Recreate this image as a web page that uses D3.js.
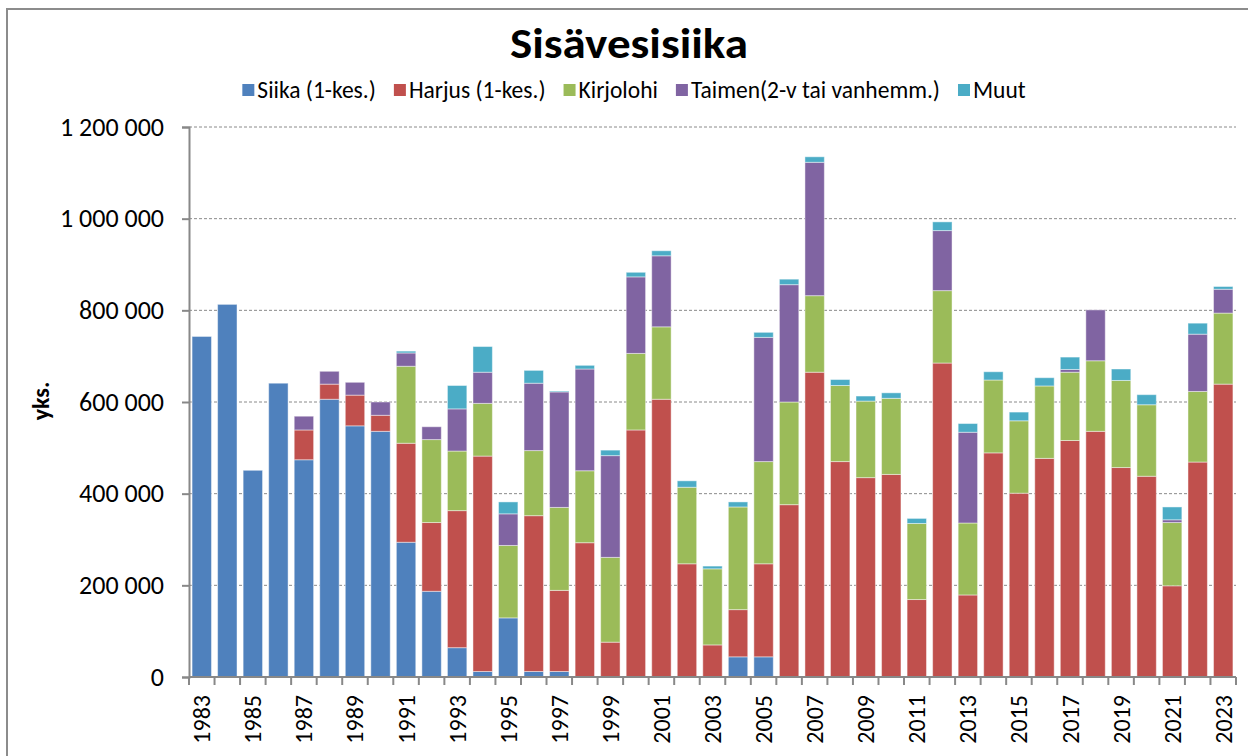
<!DOCTYPE html>
<html><head><meta charset="utf-8">
<script src="https://cdn.jsdelivr.net/npm/d3@7"></script>
<style>body{margin:0;background:#fff}svg{display:block}</style>
</head><body><svg id="c" width="1248" height="756"></svg>
<script>
const years = d3.range(1983, 2024).map(String);
const seriesNames = ["Siika (1-kes.)", "Harjus (1-kes.)", "Kirjolohi", "Taimen(2-v tai vanhemm.)", "Muut"];
const siika = [743000,813000,451000,641000,474000,606000,548000,536000,294000,187000,64000,12000,129000,12000,12000,0,0,0,0,0,0,44000,44000,0,0,0,0,0,0,0,0,0,0,0,0,0,0,0,0,0,0];
const harjus = [0,0,0,0,65000,33000,67000,35000,216000,150000,299000,470000,0,340000,177000,293000,76000,539000,606000,247000,70000,103000,203000,376000,665000,470000,435000,442000,169000,685000,179000,489000,401000,477000,516000,536000,457000,438000,199000,469000,639000];
const kirjolohi = [0,0,0,0,0,0,0,0,168000,181000,130000,115000,158000,142000,181000,157000,185000,167000,158000,167000,166000,224000,223000,224000,167000,166000,167000,166000,166000,158000,157000,159000,158000,158000,149000,154000,190000,156000,138000,154000,155000];
const taimen = [0,0,0,0,30000,28000,28000,29000,29000,28000,92000,68000,69000,147000,252000,222000,222000,167000,155000,0,0,0,271000,256000,291000,0,0,0,0,131000,198000,0,0,0,6000,111000,0,0,6000,125000,52000];
const muut = [0,0,0,0,0,0,0,0,4000,0,51000,56000,26000,28000,2000,8000,12000,10000,11000,14000,6000,11000,11000,12000,12000,13000,11000,12000,11000,19000,19000,18000,19000,18000,27000,0,25000,22000,28000,24000,6000];
const yTicks = [0,200000,400000,600000,800000,1000000,1200000];
const colors = ["#4F81BD","#C0504D","#9BBB59","#8064A2","#4BACC6"];

const font = "Carlito, Lato, 'Liberation Sans', sans-serif";
const svg = d3.select("#c");
const keys = ["siika","harjus","kirjolohi","taimen","muut"];
const rows = years.map((y,i)=>({year:y, siika:siika[i], harjus:harjus[i], kirjolohi:kirjolohi[i], taimen:taimen[i], muut:muut[i]}));
const stack = d3.stack().keys(keys)(rows);

const L=189, R=1236, T=127, B=677;
const x = d3.scaleBand().domain(years).range([L,R]).paddingInner(0.24).paddingOuter(0.12);
const y = d3.scaleLinear().domain([0,1200000]).range([B,T]);

// chart border
svg.append("rect").attr("x",7).attr("y",9).attr("width",1260).attr("height",760)
  .attr("fill","none").attr("stroke","#8c8c8c").attr("stroke-width",2);

// grid
svg.append("g").selectAll("line").data(yTicks.filter(d=>d>0)).join("line")
  .attr("x1",L).attr("x2",R).attr("y1",d=>y(d)).attr("y2",d=>y(d))
  .attr("stroke","#8a8a8a").attr("stroke-width",1).attr("stroke-dasharray","3,2");

// bars
svg.append("g").selectAll("g").data(stack).join("g").attr("fill",(d,i)=>colors[i])
  .selectAll("rect").data(d=>d).join("rect")
  .attr("x",d=>x(d.data.year)).attr("width",x.bandwidth())
  .attr("y",d=>y(d[1])).attr("height",d=>Math.max(0,y(d[0])-y(d[1])))
  .attr("stroke","rgba(255,255,255,0.45)").attr("stroke-width",1);

// y axis
const ya = svg.append("g").attr("transform",`translate(${L},0)`)
  .call(d3.axisLeft(y).tickValues(yTicks).tickSize(7).tickPadding(18)
    .tickFormat(d=>d3.format(",")(d).replace(/,/g," ")));
ya.select(".domain").attr("stroke","#888").attr("stroke-width",2);
ya.selectAll(".tick line").attr("stroke","#888").attr("stroke-width",2);
ya.selectAll("text").attr("font-family",font).attr("font-size",26).attr("fill","#000");

// x axis
const step = x.step();
const xa = svg.append("g").attr("transform",`translate(0,${B})`);
xa.append("line").attr("x1",L).attr("x2",R).attr("stroke","#888").attr("stroke-width",2);
xa.selectAll(".tk").data(d3.range(years.length+1)).join("line").attr("class","tk")
  .attr("x1",i=>L+i*step).attr("x2",i=>L+i*step).attr("y1",0).attr("y2",8)
  .attr("stroke","#888").attr("stroke-width",2);
xa.selectAll("text").data(years.filter((d,i)=>i%2===0)).join("text")
  .attr("transform",d=>`translate(${x(d)+x.bandwidth()/2+8.5},18) rotate(-90)`)
  .attr("text-anchor","end").attr("font-family",font).attr("font-size",24).attr("fill","#000")
  .text(d=>d);

// y title
svg.append("text").attr("transform","translate(49,401) rotate(-90)").attr("text-anchor","middle")
  .attr("font-family",font).attr("font-weight","bold").attr("font-size",24).text("yks.");

// title
svg.append("text").attr("x",629).attr("y",58).attr("text-anchor","middle")
  .attr("font-family",font).attr("font-weight","bold").attr("font-size",42)
  .attr("textLength",238).attr("lengthAdjust","spacingAndGlyphs").text("Sisävesisiika");

// legend
const lg = svg.append("g");
let lx = 0;
seriesNames.forEach((n,i)=>{
  const g = lg.append("g");
  g.append("rect").attr("x",0).attr("y",-6).attr("width",12).attr("height",12).attr("fill",colors[i]);
  const t = g.append("text").attr("x",15).attr("y",8).attr("font-family",font).attr("font-size",23.5).text(n);
  const w = 15 + t.node().getComputedTextLength();
  g.attr("transform",`translate(${lx},0)`);
  lx += w + 18;
});
const totalW = lx - 18;
lg.attr("transform",`translate(${634-totalW/2},90)`);
</script></body></html>
